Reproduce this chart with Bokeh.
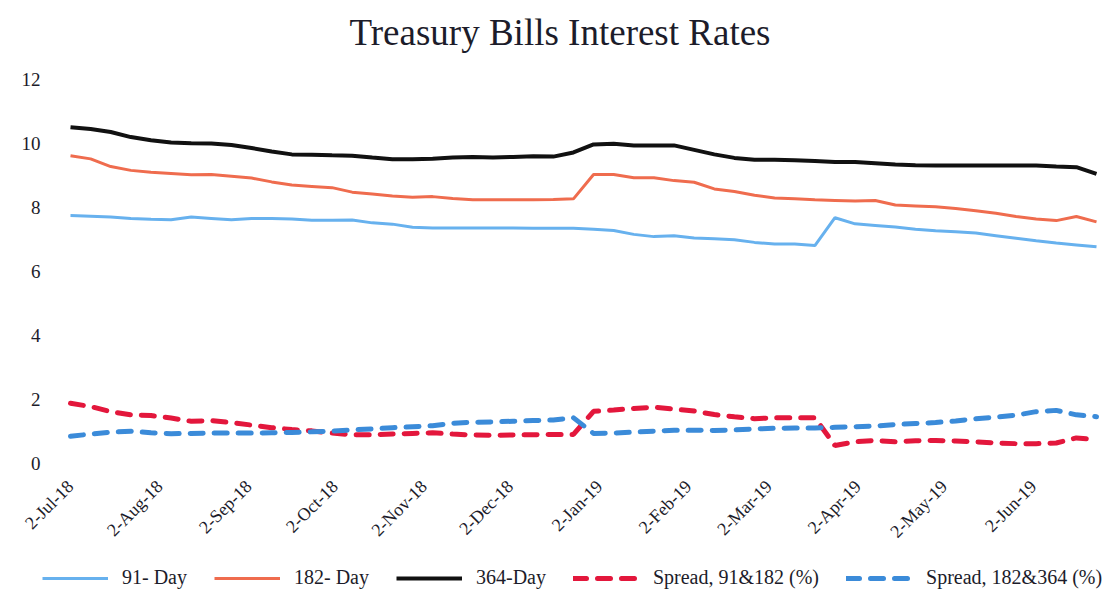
import math
import pandas as pd
from bokeh.plotting import figure
from bokeh.models import FixedTicker, Legend, LegendItem, Range1d, Label
from bokeh.embed import file_html
from bokeh.resources import INLINE

# ---------------- data ----------------
start_date = "2018-07-02"
n_weeks = 52
dates = pd.date_range(start_date, periods=n_weeks, freq="7D")

rate_91 = [7.75, 7.73, 7.70, 7.66, 7.63, 7.62, 7.70, 7.66, 7.62, 7.66,
           7.66, 7.64, 7.60, 7.60, 7.61, 7.52, 7.48, 7.38, 7.36, 7.36,
           7.36, 7.36, 7.36, 7.35, 7.35, 7.35, 7.32, 7.28, 7.16, 7.09,
           7.12, 7.05, 7.02, 6.99, 6.91, 6.86, 6.86, 6.81, 7.68, 7.49,
           7.44, 7.39, 7.32, 7.27, 7.24, 7.20, 7.12, 7.04, 6.96, 6.89,
           6.83, 6.77]
rate_182 = [9.62, 9.52, 9.28, 9.16, 9.10, 9.06, 9.02, 9.03, 8.98, 8.92,
            8.80, 8.70, 8.66, 8.62, 8.48, 8.42, 8.36, 8.32, 8.34, 8.28,
            8.24, 8.24, 8.24, 8.24, 8.25, 8.27, 9.03, 9.03, 8.93, 8.93,
            8.84, 8.79, 8.58, 8.50, 8.38, 8.30, 8.27, 8.24, 8.22, 8.20,
            8.22, 8.08, 8.05, 8.02, 7.97, 7.90, 7.82, 7.72, 7.64, 7.59,
            7.72, 7.55]
rate_364 = [10.51, 10.45, 10.36, 10.20, 10.10, 10.03, 10.01, 10.00, 9.95, 9.86,
            9.75, 9.66, 9.65, 9.63, 9.62, 9.56, 9.51, 9.51, 9.52, 9.56,
            9.58, 9.56, 9.58, 9.60, 9.59, 9.72, 9.97, 9.99, 9.94, 9.94,
            9.94, 9.80, 9.66, 9.55, 9.49, 9.49, 9.48, 9.45, 9.42, 9.42,
            9.38, 9.34, 9.32, 9.31, 9.31, 9.31, 9.31, 9.31, 9.31, 9.28,
            9.26, 9.05]
spread_91_182 = [1.88, 1.78, 1.62, 1.52, 1.50, 1.42, 1.32, 1.34, 1.28, 1.20,
                 1.12, 1.06, 1.02, 0.95, 0.90, 0.90, 0.92, 0.94, 0.96, 0.92,
                 0.89, 0.88, 0.89, 0.90, 0.91, 0.91, 1.63, 1.67, 1.72, 1.76,
                 1.70, 1.64, 1.53, 1.46, 1.40, 1.43, 1.43, 1.43, 0.56, 0.68,
                 0.72, 0.68, 0.71, 0.72, 0.70, 0.68, 0.64, 0.62, 0.62, 0.64,
                 0.80, 0.75]
spread_182_364 = [0.85, 0.92, 0.98, 1.01, 0.96, 0.93, 0.94, 0.95, 0.95, 0.95,
                  0.96, 0.97, 0.99, 1.01, 1.05, 1.08, 1.12, 1.15, 1.18, 1.26,
                  1.29, 1.30, 1.32, 1.34, 1.36, 1.43, 0.94, 0.95, 0.98, 1.01,
                  1.04, 1.04, 1.03, 1.05, 1.08, 1.10, 1.11, 1.11, 1.13, 1.15,
                  1.17, 1.22, 1.25, 1.28, 1.33, 1.40, 1.45, 1.51, 1.62, 1.66,
                  1.52, 1.46]

tick_dates = ["2018-07-02", "2018-08-02", "2018-09-02", "2018-10-02",
              "2018-11-02", "2018-12-02", "2019-01-02", "2019-02-02",
              "2019-03-02", "2019-04-02", "2019-05-02", "2019-06-02"]
tick_labels = ["2-Jul-18", "2-Aug-18", "2-Sep-18", "2-Oct-18", "2-Nov-18",
               "2-Dec-18", "2-Jan-19", "2-Feb-19", "2-Mar-19", "2-Apr-19",
               "2-May-19", "2-Jun-19"]
y_ticks = [0, 2, 4, 6, 8, 10, 12]

title_text = "Treasury Bills Interest Rates"
series_names = ["91- Day", "182- Day", "364-Day",
                "Spread, 91&182 (%)", "Spread, 182&364 (%)"]

# ---------------- figure ----------------
t0 = pd.Timestamp(start_date)
xs = [(d - t0).days for d in dates]
tick_x = [(pd.Timestamp(t) - t0).days for t in tick_dates]

FONT = "Liberation Serif"
TXT = "#1c1c2a"

W, H = 1109, 589
PX_PER_DAY = 2.874          # horizontal scale of the reference
X0_PX = 70                  # pixel of the first date
PX_PER_UNIT = 32.0          # vertical scale of the reference
Y0_PX = 463                 # pixel of the value 0

x_lo = -X0_PX / PX_PER_DAY
x_hi = (W - X0_PX) / PX_PER_DAY
y_lo = -(H - Y0_PX) / PX_PER_UNIT
y_hi = Y0_PX / PX_PER_UNIT
plot_left = -10 / PX_PER_DAY   # left edge of the data area (pixel 60)

p = figure(width=W, height=H, output_backend="svg", toolbar_location=None,
           x_range=Range1d(x_lo, x_hi), y_range=Range1d(y_lo, y_hi),
           min_border=0, min_border_left=0, min_border_right=0,
           min_border_top=0, min_border_bottom=0)
p.outline_line_color = None
p.xgrid.visible = False
p.ygrid.visible = False
p.background_fill_color = "white"
p.border_fill_color = "white"

yax = p.yaxis[0]
yax.fixed_location = plot_left
yax.ticker = FixedTicker(ticks=y_ticks)
yax.axis_line_color = None
yax.major_tick_line_color = None
yax.minor_tick_line_color = None
yax.major_label_text_font = FONT
yax.major_label_text_font_size = "19px"
yax.major_label_text_color = TXT
yax.major_label_standoff = 14

xax = p.xaxis[0]
xax.fixed_location = 0
xax.ticker = FixedTicker(ticks=tick_x)
xax.major_label_overrides = {tx: lab for tx, lab in zip(tick_x, tick_labels)}
xax.axis_line_color = None
xax.major_tick_line_color = None
xax.minor_tick_line_color = None
xax.major_label_orientation = math.pi / 4
xax.major_label_text_font = FONT
xax.major_label_text_font_size = "18px"
xax.major_label_text_color = TXT
xax.major_label_standoff = 14

r1 = p.line(xs, rate_91, line_color="#67b1ee", line_width=3)
r2 = p.line(xs, rate_182, line_color="#ef6c4e", line_width=3)
r3 = p.line(xs, rate_364, line_color="#111111", line_width=4)
r4 = p.line(xs, spread_91_182, line_color="#e3173c", line_width=5,
            line_dash="13 11", line_cap="round")
r5 = p.line(xs, spread_182_364, line_color="#3b8bd9", line_width=5,
            line_dash="13 11", line_cap="round")

p.add_layout(Label(x=349, y=H - 32, x_units="screen", y_units="screen",
                   text=title_text, text_font=FONT, text_font_size="37px",
                   text_color=TXT, text_baseline="alphabetic", text_align="left"))

legend = Legend(items=[LegendItem(label=n, renderers=[r])
                       for n, r in zip(series_names, [r1, r2, r3, r4, r5])],
                orientation="horizontal", location=(42, 0),
                border_line_color=None, background_fill_alpha=0,
                label_text_font=FONT, label_text_font_size="20px",
                label_text_color=TXT, glyph_width=66, glyph_height=20,
                label_standoff=14, spacing=27, padding=0, margin=0)
p.add_layout(legend)

open("out.html", "w").write(file_html(p, INLINE))
